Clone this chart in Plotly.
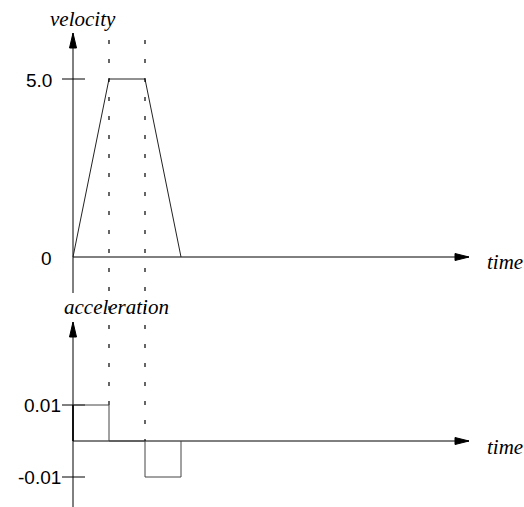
import plotly.graph_objects as go

# ---------------- data ----------------
times = [0, 500, 1000, 1500]
velocity = [0, 5.0, 5.0, 0]
acc_times = [0, 500, 1000, 1500]          # start of each constant-acceleration interval
acceleration = [0.01, 0.0, -0.01, 0.0]    # value held from each start time
switch_times = [500, 1000]
v_tick_vals = [0, 5.0]
v_tick_text = ["0", "5.0"]
a_tick_vals = [0.01, -0.01]
a_tick_text = ["0.01", "-0.01"]
t_axis_end = 5500

# ---------------- layout constants (pixels) ----------------
W, H = 524, 507
OX = 73                      # pixel x of time origin
TS = 0.072                   # px per time unit
V0, VS = 257, 35.6           # pixel y of velocity zero, px per velocity unit
A0, AS = 441, 3600           # pixel y of acceleration zero, px per acceleration unit

x_range = [-OX / TS, (W - OX) / TS]
yv_range = [-(H - V0) / VS, V0 / VS]
ya_range = [-(H - A0) / AS, A0 / AS]

def vy(py):          # pixel y -> velocity units
    return (V0 - py) / VS

def ay(py):          # pixel y -> acceleration units
    return (A0 - py) / AS

def tx(dpx):
    return dpx / TS

INK = "#000000"
fig = go.Figure()

def line(x, y, axis="y", color=INK, width=1, dash=None, shape="linear"):
    fig.add_trace(go.Scatter(x=x, y=y, yaxis=axis, mode="lines",
                             line=dict(color=color, width=width, dash=dash, shape=shape),
                             hoverinfo="skip", showlegend=False))

def head_up(x0, tip, to_y, axis):
    l, hw = 15, 3.5
    xs = [x0, x0 - tx(hw), x0 + tx(hw), x0]
    ys = [tip, to_y(l), to_y(l), tip]
    fig.add_trace(go.Scatter(x=xs, y=ys, yaxis=axis, mode="lines", fill="toself",
                             fillcolor=INK, line=dict(color=INK, width=1),
                             hoverinfo="skip", showlegend=False))

def head_right(tip_x, y0, scale, axis):
    l, hw = 14, 3.5
    xs = [tip_x, tip_x - tx(l), tip_x - tx(l), tip_x]
    ys = [y0, y0 + hw / scale, y0 - hw / scale, y0]
    fig.add_trace(go.Scatter(x=xs, y=ys, yaxis=axis, mode="lines", fill="toself",
                             fillcolor=INK, line=dict(color=INK, width=1),
                             hoverinfo="skip", showlegend=False))

# ---------- dashed guide lines (on acceleration axis, spanning both panels) ----------
for ts in switch_times:
    i = acc_times.index(ts)
    end = max(acceleration[i - 1], acceleration[i])
    line([ts, ts], [ay(40), end], axis="y2", color=INK, width=1.2, dash="4px,15px")

# ---------- velocity panel ----------
v_tip = vy(33)
line([0, 0], [vy(293), v_tip], axis="y")
head_up(0, v_tip, lambda l: vy(33 + l), "y")
line([0, t_axis_end], [0, 0], axis="y")
head_right(t_axis_end, 0, VS, "y")
for v in v_tick_vals:
    if v != 0:
        line([-tx(11), tx(12)], [v, v], axis="y")
line(times, velocity, axis="y", color="#222222", width=1)

# ---------- acceleration panel ----------
a_tip = ay(322)
line([0, 0], [ya_range[0], a_tip], axis="y2")
head_up(0, a_tip, lambda l: ay(322 + l), "y2")
line([0, t_axis_end], [0, 0], axis="y2")
head_right(t_axis_end, 0, AS, "y2")
for a in a_tick_vals:
    line([-tx(11), tx(12)], [a, a], axis="y2")
line([0] + acc_times, [0] + acceleration, axis="y2", color="#444444", width=1, shape="hv")
line([0, 0], [0, acceleration[0]], axis="y2", color=INK, width=1.6)

# ---------- text ----------
ann = []
SANS = dict(family="Liberation Sans", size=19, color=INK)
SERIF = dict(family="Liberation Serif", size=21, color=INK)
for v, t in zip(v_tick_vals, v_tick_text):
    ann.append(dict(x=0, y=v, xref="x", yref="y", text=t, showarrow=False,
                    xanchor="right", yanchor="middle", xshift=-19, yshift=-1, font=SANS))
for a, t in zip(a_tick_vals, a_tick_text):
    ann.append(dict(x=0, y=a, xref="x", yref="y2", text=t, showarrow=False,
                    xanchor="right", yanchor="middle", xshift=-10, yshift=0, font=SANS))
ann.append(dict(x=0, y=v_tip, xref="x", yref="y", text="<i>velocity</i>", showarrow=False,
                xanchor="center", yanchor="middle", xshift=10, yshift=14, font=SERIF))
ann.append(dict(x=0, y=a_tip, xref="x", yref="y2", text="<i>acceleration</i>", showarrow=False,
                xanchor="center", yanchor="middle", xshift=43, yshift=15, font=SERIF))
ann.append(dict(x=t_axis_end, y=0, xref="x", yref="y", text="<i>time</i>", showarrow=False,
                xanchor="left", yanchor="middle", xshift=16, yshift=-5, font=SERIF))
ann.append(dict(x=t_axis_end, y=0, xref="x", yref="y2", text="<i>time</i>", showarrow=False,
                xanchor="left", yanchor="middle", xshift=16, yshift=-6, font=SERIF))

fig.update_layout(
    width=W, height=H,
    margin=dict(l=0, r=0, t=0, b=0, pad=0),
    paper_bgcolor="white", plot_bgcolor="white",
    xaxis=dict(range=x_range, visible=False, fixedrange=True),
    yaxis=dict(range=yv_range, visible=False, fixedrange=True, domain=[0, 1]),
    yaxis2=dict(range=ya_range, visible=False, fixedrange=True, overlaying="y"),
    annotations=ann,
    showlegend=False,
)

fig.write_html("out.html", config={"displayModeBar": False},
               post_script="document.body.style.margin='0';document.body.style.overflow='hidden';")
